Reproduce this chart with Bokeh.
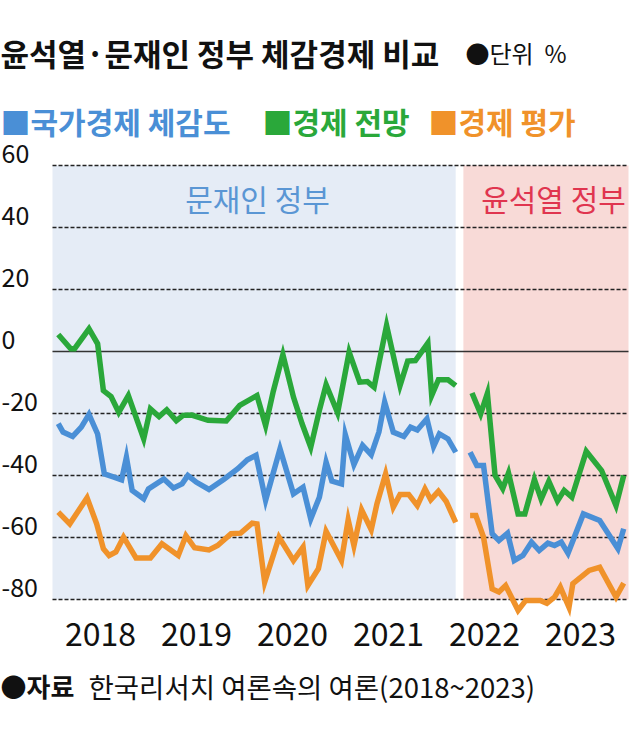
from bokeh.plotting import figure
from bokeh.models import Range1d
from bokeh.core.properties import value
from bokeh.embed import file_html
from bokeh.resources import INLINE

# ---------------- data ----------------
years = [2018, 2019, 2020, 2021, 2022, 2023]
y_ticks = [60, 40, 20, 0, -20, -40, -60, -80]
moon_period = (2018.0, 2022.2)
yoon_period = (2022.28, 2024.0)

# 국가경제 체감도 (blue)
sense_moon_x = [2018.06, 2018.11, 2018.21, 2018.30, 2018.38, 2018.47, 2018.54, 2018.64, 2018.72, 2018.77, 2018.83, 2018.95,
                2019.00, 2019.16, 2019.26, 2019.35, 2019.41, 2019.50, 2019.63, 2019.79, 2019.93,
                2020.03, 2020.12, 2020.22, 2020.37, 2020.51, 2020.61, 2020.69, 2020.78, 2020.85, 2020.91,
                2021.01, 2021.05, 2021.14, 2021.23, 2021.32, 2021.40, 2021.46, 2021.55, 2021.66, 2021.73, 2021.80, 2021.90, 2021.97,
                2022.03, 2022.12, 2022.20]
sense_moon_y = [-23.3, -26, -27.4, -24.4, -20.3, -26.6, -39.5, -40.5, -41.4, -34.1, -44.8, -47.5,
                -44.3, -41.1, -44, -42.7, -40, -42.2, -44.5, -41.1, -37.8,
                -34.9, -33.5, -48, -31.4, -45.9, -43.8, -54, -47, -35.7, -41.8,
                -42.7, -26.8, -36.5, -30.3, -33.3, -26, -16.3, -26, -27.4, -24.4, -25.3, -21.7, -30.6,
                -26.6, -28.2, -32.5]
sense_yoon_x = [2022.35, 2022.42, 2022.49, 2022.58, 2022.65, 2022.74, 2022.81, 2022.90, 2022.99,
                2023.07, 2023.16, 2023.23, 2023.30, 2023.37, 2023.53, 2023.70, 2023.89, 2023.95]
sense_yoon_y = [-32.5, -36.8, -36.8, -58.8, -61, -58.6, -67.4, -65.8, -61.5,
                -64.2, -61.8, -62.6, -61.5, -65.1, -52.4, -54.5, -63.6, -57.2]

# 경제 전망 (green)
outlook_moon_x = [2018.06, 2018.19, 2018.23, 2018.38, 2018.47, 2018.53, 2018.61, 2018.69, 2018.79, 2018.95,
                  2019.02, 2019.11, 2019.19, 2019.29, 2019.36, 2019.45, 2019.62, 2019.81, 2019.95,
                  2020.13, 2020.22, 2020.30, 2020.40, 2020.51, 2020.60, 2020.69, 2020.78, 2020.85, 2020.97,
                  2021.09, 2021.20, 2021.28, 2021.35, 2021.48, 2021.62, 2021.70, 2021.78, 2021.91, 2021.95,
                  2022.02, 2022.12, 2022.20]
outlook_moon_y = [5.5, 0.9, 0.9, 7.3, 2.5, -12.6, -14.5, -19.6, -14.2, -28.2,
                  -18.5, -21, -18.8, -22.3, -20.6, -20.5, -22.2, -22.4, -17.4,
                  -14.2, -23.9, -12.8, -1, -14.7, -23.3, -30.9, -19, -10.7, -19.8,
                  -0.2, -9.9, -9.7, -11.5, 8.4, -11, -3.1, -2.9, 2.7, -14.2,
                  -9.1, -9.1, -11]
outlook_yoon_x = [2022.37, 2022.46, 2022.53, 2022.61, 2022.69, 2022.75, 2022.85, 2022.92, 2023.02,
                  2023.09, 2023.17, 2023.26, 2023.33, 2023.41, 2023.56, 2023.72, 2023.87, 2023.95]
outlook_yoon_y = [-13.4, -20.1, -13.5, -40, -44.2, -39.2, -52.4, -52.4, -41.3,
                  -47.6, -41.9, -48.2, -44.8, -47, -32.2, -38.4, -49.7, -40]

# 경제 평가 (orange)
evaluation_moon_x = [2018.06, 2018.18, 2018.36, 2018.46, 2018.53, 2018.59, 2018.66, 2018.74, 2018.87,
                     2019.02, 2019.14, 2019.31, 2019.39, 2019.48, 2019.63, 2019.72, 2019.86, 2019.96,
                     2020.08, 2020.13, 2020.21, 2020.36, 2020.51, 2020.61, 2020.66, 2020.77, 2020.85,
                     2021.01, 2021.08, 2021.14, 2021.22, 2021.32, 2021.38, 2021.47, 2021.55, 2021.62, 2021.71,
                     2021.80, 2021.88, 2021.94, 2022.02, 2022.10, 2022.20]
evaluation_moon_y = [-51.8, -55.6, -47.2, -55.6, -63.6, -65.8, -64.7, -59.9, -66.6,
                     -66.6, -62, -65.8, -59.4, -63.3, -64, -62.6, -58.8, -58.6,
                     -55.4, -55.6, -74.4, -59.9, -67.4, -63.1, -75.5, -70.1, -58,
                     -67.4, -54.3, -62.6, -51.1, -57.5, -49.1, -39.5, -50.2, -46.1, -46.1,
                     -49.7, -44.3, -47.8, -45.1, -48.3, -55.1]
evaluation_yoon_x = [2022.35, 2022.41, 2022.49, 2022.58, 2022.65, 2022.72, 2022.85, 2022.93, 2023.08,
                     2023.15, 2023.23, 2023.29, 2023.38, 2023.42, 2023.59, 2023.70, 2023.87, 2023.95]
evaluation_yoon_y = [-52.9, -52.9, -59.9, -76.6, -77.6, -75.5, -83.5, -80.3, -80.3,
                     -81.2, -79.2, -76, -82.5, -74.9, -70.6, -69.6, -79.2, -74.7]

series_names = ["국가경제 체감도", "경제 전망", "경제 평가"]
title_text = "윤석열·문재인 정부 체감경제 비교"
unit_text = "●단위\u00a0\u00a0%"
source_label = "●자료"
source_text = "한국리서치 여론속의 여론(2018~2023)"
period_labels = ["문재인 정부", "윤석열 정부"]

# ---------------- layout ----------------
W, H = 630, 720
X_LEFT_PX, X_RIGHT_PX = 52, 628
PX_PER_YEAR = (X_RIGHT_PX - X_LEFT_PX) / (years[-1] + 1 - years[0])
ZERO_PX, PX_PER_UNIT = 351, 3.1


def fx(px):
    return years[0] + (px - X_LEFT_PX) / PX_PER_YEAR


def fy(py):
    return (ZERO_PX - py) / PX_PER_UNIT


p = figure(width=W, height=H,
           x_range=Range1d(fx(0), fx(W)),
           y_range=Range1d(fy(H), fy(0)),
           x_axis_type=None, y_axis_type=None,
           min_border=0, toolbar_location=None, output_backend="svg")
p.outline_line_color = None
p.grid.visible = False
p.background_fill_color = "white"
p.border_fill_color = "white"

BLUE, GREEN, ORANGE = "#4a8fd6", "#2aa83a", "#f0922a"
FONT = value("Noto Sans CJK KR")

# background period shading
p.quad(left=[moon_period[0]], right=[moon_period[1]], bottom=[y_ticks[-1]], top=[y_ticks[0]],
       fill_color="#e5ecf6", line_color=None)
p.quad(left=[yoon_period[0]], right=[yoon_period[1]], bottom=[y_ticks[-1]], top=[y_ticks[0]],
       fill_color="#f8dad7", line_color=None)

# grid lines
for t in y_ticks:
    if t == 0:
        p.line(x=[years[0], years[-1] + 1], y=[t, t], line_color="#333333", line_width=1.6)
    else:
        p.line(x=[years[0], years[-1] + 1], y=[t, t], line_color="#222222",
               line_width=1.3, line_dash="4 2")

# series lines
for xs, ys, c in [(outlook_moon_x, outlook_moon_y, GREEN), (outlook_yoon_x, outlook_yoon_y, GREEN),
                  (sense_moon_x, sense_moon_y, BLUE), (sense_yoon_x, sense_yoon_y, BLUE),
                  (evaluation_moon_x, evaluation_moon_y, ORANGE), (evaluation_yoon_x, evaluation_yoon_y, ORANGE)]:
    p.line(xs, ys, line_color=c, line_width=5.5, line_join="miter")

# period labels
p.text(x=[fx(257)], y=[fy(197)], text=[period_labels[0]],
       text_font=FONT, text_font_size="30px", text_color="#5a96d4",
       text_align="center", text_baseline="middle")
p.text(x=[fx(553)], y=[fy(197)], text=[period_labels[1]],
       text_font=FONT, text_font_size="30px", text_color="#e0354f",
       text_align="center", text_baseline="middle")

# y tick labels (placed above their grid lines)
p.text(x=[fx(1)] * len(y_ticks), y=[t + 12 / PX_PER_UNIT for t in y_ticks],
       text=[str(t) for t in y_ticks], text_font=FONT, text_font_size="25px",
       text_color="#111111", text_align="left", text_baseline="middle")

# x year labels (centered in each year)
p.text(x=[yr + 0.5 for yr in years], y=[fy(633)] * len(years), text=[str(yr) for yr in years],
       text_font=FONT, text_font_size="32px", text_color="#111111",
       text_align="center", text_baseline="middle")

# title and unit
p.text(x=[fx(0)], y=[fy(52)], text=[title_text], text_font=FONT, text_font_size="31px",
       text_font_style="bold", text_color="#111111", text_align="left", text_baseline="middle")
p.text(x=[fx(465)], y=[fy(52)], text=[unit_text], text_font=FONT, text_font_size="24px",
       text_color="#111111", text_align="left", text_baseline="middle")

# legend row
for name, c, x0 in zip(series_names, [BLUE, GREEN, ORANGE], [0, 262, 428]):
    p.text(x=[fx(x0)], y=[fy(120)], text=["■" + name], text_font=FONT, text_font_size="30px",
           text_font_style="bold", text_color=c, text_align="left", text_baseline="middle")

# source
p.text(x=[fx(0)], y=[fy(685)], text=[source_label], text_font=FONT, text_font_size="26px",
       text_font_style="bold", text_color="#111111", text_align="left", text_baseline="middle")
p.text(x=[fx(88)], y=[fy(685)], text=[source_text], text_font=FONT, text_font_size="27.5px",
       text_color="#111111", text_align="left", text_baseline="middle")

open("out.html", "w").write(file_html(p, INLINE))
